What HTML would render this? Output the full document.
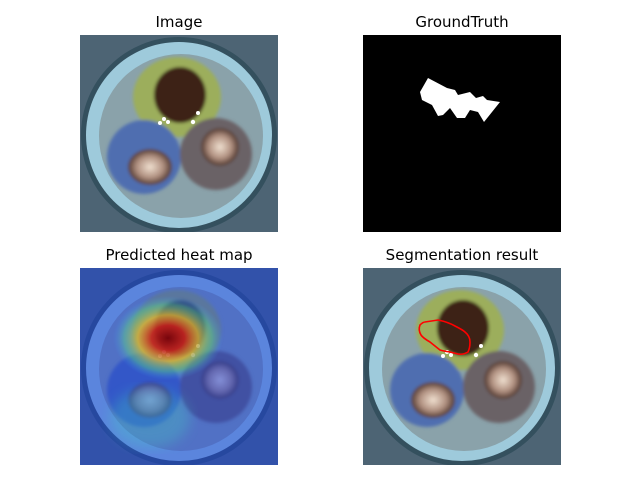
<!DOCTYPE html>
<html><head><meta charset="utf-8"><style>
body{margin:0;background:#fff;width:640px;height:480px;overflow:hidden;font-family:"DejaVu Sans","Liberation Sans",sans-serif}
.t{position:absolute;font-size:15px;color:#000;text-align:center;width:300px}
svg{position:absolute}
</style></head><body>
<div class="t" style="left:29px;top:13px">Image</div>
<div class="t" style="left:312px;top:13px">GroundTruth</div>
<div class="t" style="left:29px;top:246px">Predicted heat map</div>
<div class="t" style="left:312px;top:246px">Segmentation result</div>

<svg width="0" height="0" style="position:absolute">
<defs>
<filter id="bl"><feGaussianBlur stdDeviation="1.5"/></filter>
<filter id="bl2"><feGaussianBlur stdDeviation="6"/></filter>
<radialGradient id="cu"><stop offset="0" stop-color="#f0e0d0"/><stop offset="0.6" stop-color="#b09080"/><stop offset="1" stop-color="#503830"/></radialGradient>
<radialGradient id="hot" cx="0.5" cy="0.5" r="0.5">
<stop offset="0" stop-color="#800000" stop-opacity="0.9"/>
<stop offset="0.3" stop-color="#d02010" stop-opacity="0.85"/>
<stop offset="0.55" stop-color="#f0c020" stop-opacity="0.7"/>
<stop offset="0.8" stop-color="#60e080" stop-opacity="0.4"/>
<stop offset="1" stop-color="#40a0ff" stop-opacity="0"/>
</radialGradient>
<g id="cable">
<rect width="198" height="197" fill="#4d6474"/>
<circle cx="99" cy="100" r="98" fill="#34505e"/>
<circle cx="99" cy="100" r="93" fill="#9ecadb"/>
<circle cx="101" cy="101" r="82" fill="#8aa2aa"/>
<g filter="url(#bl)">
<ellipse cx="97" cy="62" rx="44" ry="40" fill="#9cae5c"/>
<ellipse cx="100" cy="60" rx="26" ry="28" fill="#3e2418"/>
<circle cx="64" cy="122" r="37" fill="#4f6eb0"/>
<ellipse cx="70" cy="132" rx="22" ry="18" fill="url(#cu)"/>
<circle cx="136" cy="119" r="36" fill="#6a6266"/>
<ellipse cx="140" cy="112" rx="19" ry="19" fill="url(#cu)"/>
</g>
<g fill="#fff">
<circle cx="84" cy="84" r="2"/><circle cx="88" cy="87" r="2"/><circle cx="80" cy="88" r="2"/><circle cx="113" cy="87" r="2.2"/><circle cx="118" cy="78" r="2"/>
</g>
</g>
</defs>
</svg>

<svg style="left:80px;top:35px" width="198" height="197"><use href="#cable"/></svg>

<svg style="left:363px;top:35px" width="198" height="197">
<rect width="198" height="197" fill="#000"/>
<polygon fill="#fff" points="57,57 65,43 84,53 92,55 95,60 107,57 113,63 120,61 124,65 137,67 121,87 115,77 107,75 102,83 94,83 87,73 80,80 75,81 69,70 59,65"/>
</svg>

<svg style="left:80px;top:268px" width="198" height="197">
<use href="#cable"/>
<rect width="198" height="197" fill="#1840e0" opacity="0.5"/>
<ellipse cx="70" cy="150" rx="40" ry="30" fill="#40e0c0" opacity="0.25" filter="url(#bl2)"/>
<ellipse cx="88" cy="70" rx="55" ry="42" fill="url(#hot)"/>
</svg>

<svg style="left:363px;top:268px" width="198" height="197">
<use href="#cable"/>
<path d="M57,57 Q60,54 62,54 L75,52 Q85,54 92,58 Q100,62 102,64 Q107,68 107,74 Q107,80 105,84 Q100,87 95,86 L87,84 Q80,83 77,82 Q72,78 67,74 Q60,70 58,67 Q55,62 57,57Z" fill="none" stroke="#f00" stroke-width="1.6"/>
</svg>
</body></html>
